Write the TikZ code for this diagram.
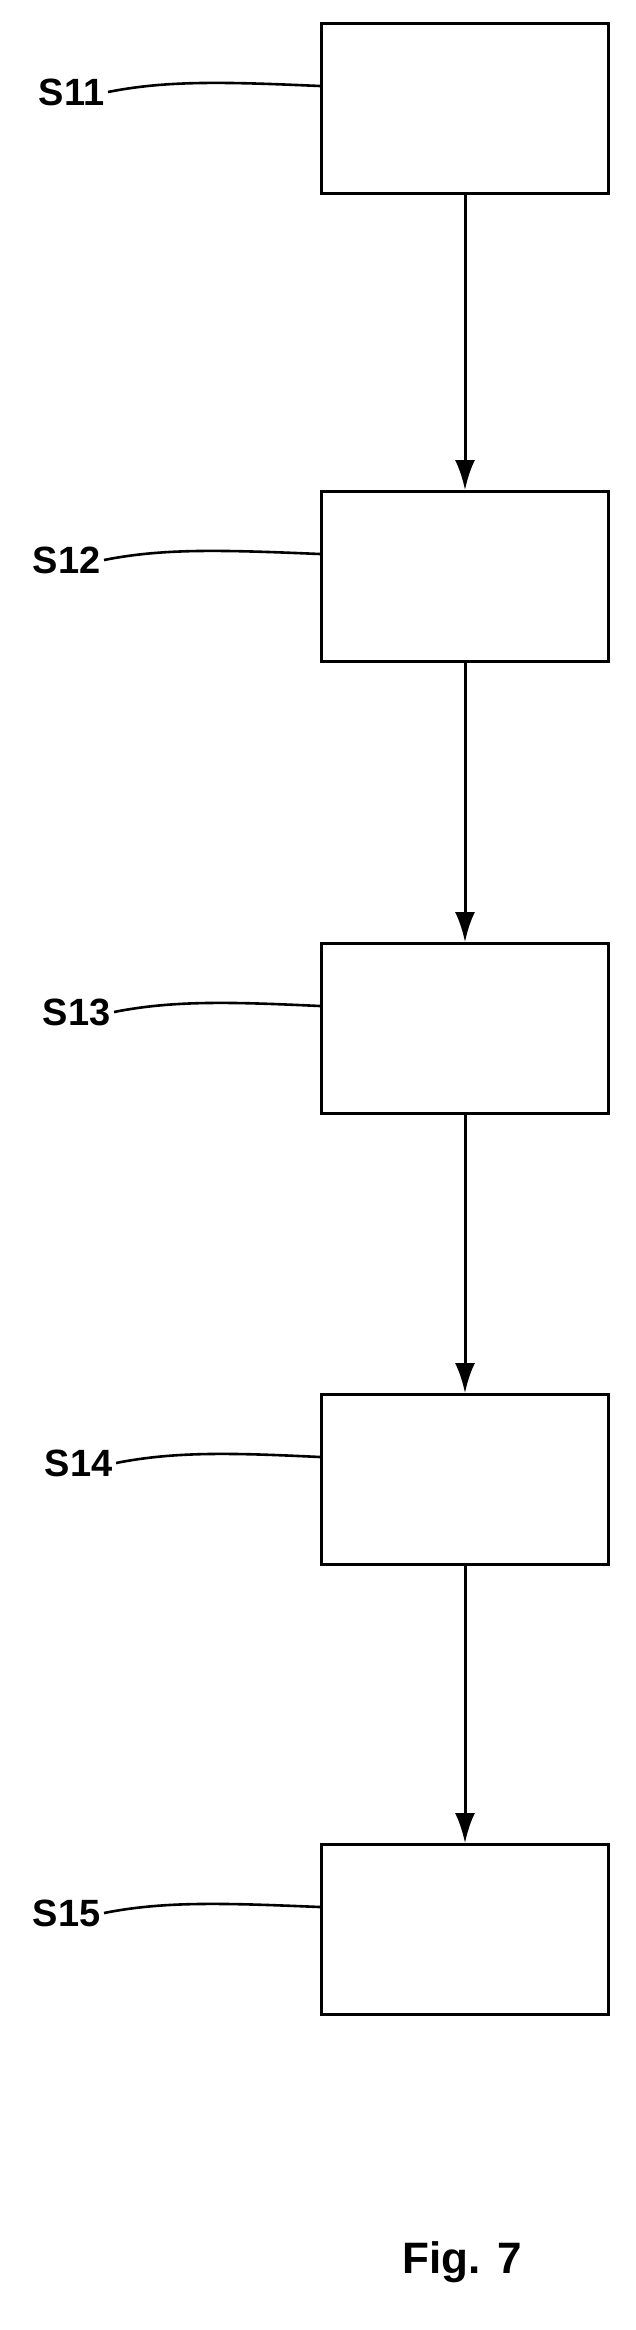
\documentclass[tikz,border=0pt]{standalone}
\usepackage{fontspec}
\setmainfont{Liberation Sans}
\usetikzlibrary{arrows.meta}
\begin{document}
\begin{tikzpicture}[x=1pt,y=-1pt,
  stepbox/.style={draw,line width=3pt,minimum width=287pt,minimum height=170pt,anchor=north west,inner sep=0},
  lbl/.style={font=\fontsize{38}{44}\selectfont\bfseries,anchor=east},
  arr/.style={line width=3pt,-{Latex[length=30pt,width=20pt]}},
  lead/.style={line width=2.6pt}]
\useasboundingbox (0,0) rectangle (635,2330);
\foreach \i/\y/\lx in {1/22/108,2/490/104,3/942/114,4/1393/116,5/1843/104}{
  \node[stepbox] (b\i) at (320,\y) {};
  \node[lbl] (l\i) at (\lx,\y+70) {S1\i};
  \draw[lead] (l\i.east) .. controls (\lx+60,\y+58) and (\lx+120,\y+60) .. ([yshift=-2pt]b\i.west |- 320,\y+62);
}
\foreach \a/\b in {1/2,2/3,3/4,4/5}{\draw[arr] (b\a.south) -- (b\b.north);}
\node[font=\fontsize{44}{50}\selectfont\bfseries] (fig) at (462,2262) {Fig. 7};
\end{tikzpicture}
\end{document}
